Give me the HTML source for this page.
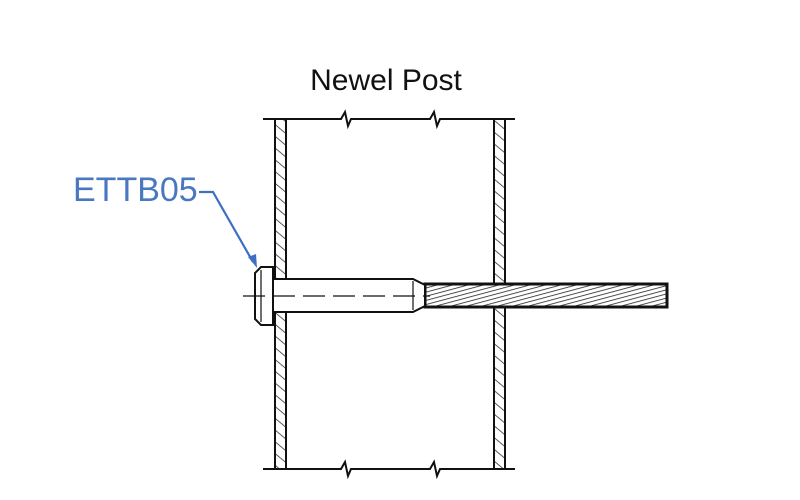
<!DOCTYPE html>
<html><head><style>body{margin:0;background:#fff}svg{display:block}</style></head><body>
<svg width="800" height="500" viewBox="0 0 800 500" xmlns="http://www.w3.org/2000/svg">
<defs>
<pattern id="h" width="9" height="9" patternUnits="userSpaceOnUse" patternTransform="rotate(-50)">
<line x1="0" y1="0" x2="0" y2="9" stroke="#333" stroke-width="1.6"/></pattern>
<pattern id="c" width="4" height="4" patternUnits="userSpaceOnUse" patternTransform="rotate(75)">
<line x1="0" y1="0" x2="0" y2="4" stroke="#222" stroke-width="1.6"/></pattern>
</defs>
<text x="386" y="90" font-family="Liberation Sans, sans-serif" font-size="30" text-anchor="middle" fill="#111">Newel Post</text>
<g stroke="#111" stroke-width="2" fill="none">
<path d="M263 119 H341 L345 112 L348 126 L351 119 H430 L434 112 L437 126 L440 119 H515"/>
<path d="M263 469 H341 L345 462 L348 476 L351 469 H430 L434 462 L437 476 L440 469 H515"/>
<rect x="275" y="119" width="11" height="350" fill="url(#h)"/>
<rect x="494" y="119" width="11" height="350" fill="url(#h)"/>
<rect x="425" y="284" width="242" height="23" fill="#fff" stroke="none"/>
<rect x="425" y="284" width="242" height="23" fill="url(#c)" stroke-width="3"/>
<path d="M273 279 H413 L425 285 V306 L413 312 H273 Z" fill="#fff"/>
<path d="M261 267 H273 V325 H261 L255 319 V273 Z" fill="#fff"/>
<line x1="261" y1="270" x2="261" y2="322" stroke-width="1.2"/>
<line x1="413" y1="281" x2="413" y2="310" stroke-width="1.2"/>
<line x1="243" y1="296" x2="430" y2="296" stroke-width="1.2" stroke-dasharray="22,8"/>
</g>
<text x="73" y="201" font-family="Liberation Sans, sans-serif" font-size="34" fill="#4a78c0">ETTB05</text>
<path d="M199 192 H213 L253 262" stroke="#3e6fc0" stroke-width="2.2" fill="none"/>
<path d="M257 268 L248 257 L256 254 Z" fill="#3e6fc0"/>
</svg>
</body></html>
